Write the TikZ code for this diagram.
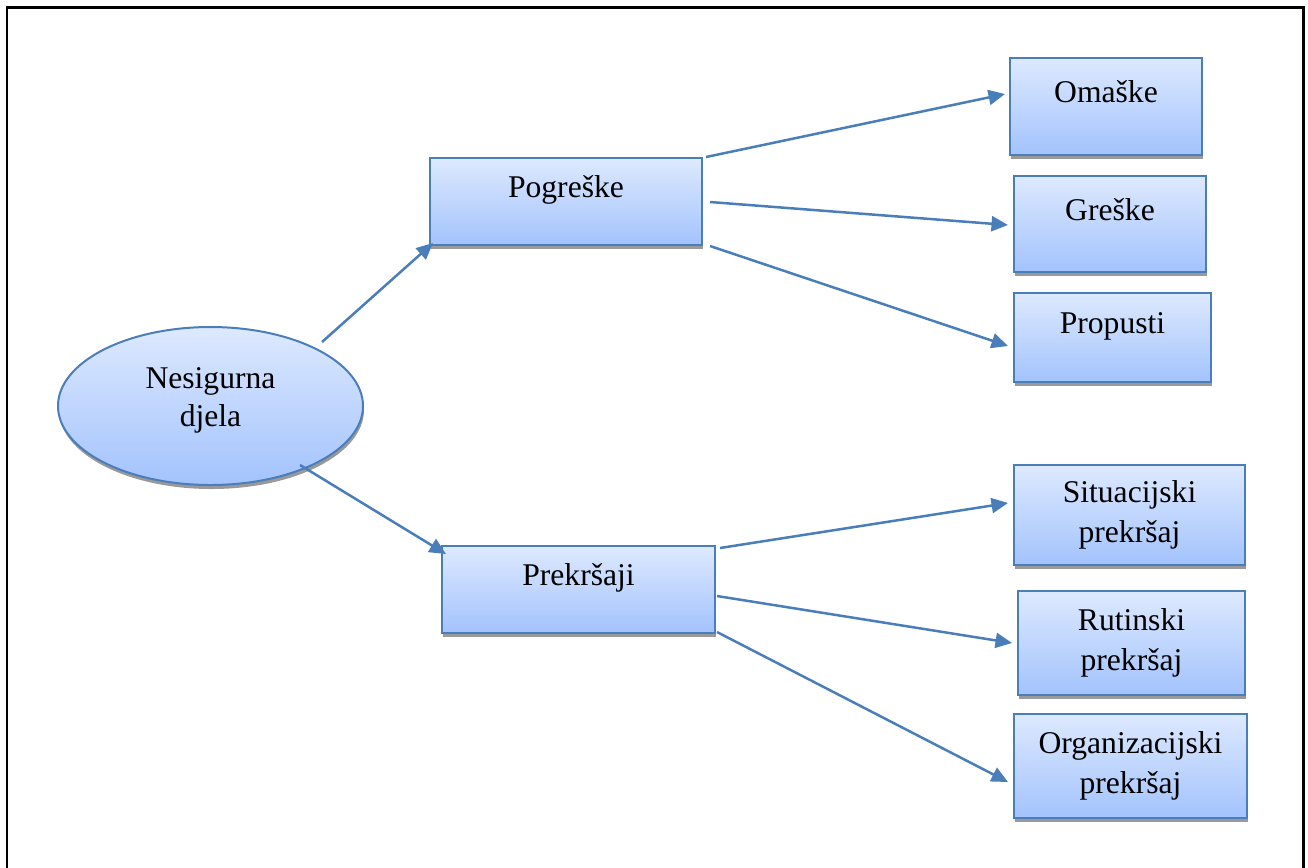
\documentclass[tikz,border=0pt]{standalone}
\usepackage{fontspec}
\setmainfont{Liberation Serif}
\usetikzlibrary{arrows.meta,shapes.geometric,shadows}
\definecolor{bordc}{HTML}{4A7EBB}
\definecolor{topc}{HTML}{DDE9FE}
\definecolor{botc}{HTML}{A3C3FD}
\tikzset{
  every node/.style={font=\fontsize{18}{22.8}\selectfont, text=black},
  shad/.style={general shadow={fill=black!40, shadow xshift=0.02cm, shadow yshift=-0.08cm}},
  boxa/.style={draw=bordc, line width=0.04cm, top color=topc, bottom color=botc, shad,
    rectangle, inner sep=0pt, align=center},
  topbox/.style={boxa, text height=0.46cm, text depth=0.62cm},
  ellbox/.style={boxa, ellipse},
  arr/.style={draw=bordc, line width=0.05cm, -{Triangle[length=0.33cm,width=0.3cm]}},
}
\begin{document}
\begin{tikzpicture}[x=0.02cm,y=-0.02cm]
\useasboundingbox (0,0) rectangle (1308,867);
% frame
\draw[black, line width=0.06cm] (7,880) -- (7,7.5) -- (1303,7.5) -- (1303,880);

\node[ellbox, minimum width=305*0.02cm, minimum height=158*0.02cm, text height=0.7cm, text depth=0.66cm] (el) at (210.5,406) {\begin{tabular}{@{}c@{}}Nesigurna\\[-0.04cm]djela\end{tabular}};

\node[topbox, minimum width=272*0.02cm, minimum height=87*0.02cm] (pg) at (566,201.5) {Pogreške};
\node[topbox, minimum width=273*0.02cm, minimum height=87*0.02cm] (pk) at (578.5,589.5) {Prekršaji};

\node[topbox, minimum width=192*0.02cm, minimum height=97*0.02cm] (om) at (1106,106.5) {Omaške};
\node[topbox, minimum width=192*0.02cm, minimum height=96*0.02cm] (gr) at (1110,224) {Greške};
\node[topbox, minimum width=197*0.02cm, minimum height=89*0.02cm] (pr) at (1112.5,337.5) {Propusti};

\node[boxa, minimum width=231*0.02cm, minimum height=100*0.02cm] (si) at (1129.5,515) {Situacijski\\prekršaj};
\node[boxa, minimum width=227*0.02cm, minimum height=104*0.02cm] (ru) at (1131.5,643) {Rutinski\\prekršaj};
\node[boxa, minimum width=233*0.02cm, minimum height=104*0.02cm] (or) at (1130.5,766) {Organizacijski\\prekršaj};

% connector end points
\coordinate (a1) at (322,342);  \coordinate (b1) at (433,243);
\coordinate (a2) at (300,465);  \coordinate (b2) at (446,554);
\coordinate (a3) at (706,157);  \coordinate (b3) at (1005,94);
\coordinate (a4) at (710,202);  \coordinate (b4) at (1008,225);
\coordinate (a5) at (710,246);  \coordinate (b5) at (1008,346);
\coordinate (a6) at (720,548);  \coordinate (b6) at (1008,503);
\coordinate (a7) at (717,596);  \coordinate (b7) at (1012,643);
\coordinate (a8) at (717,632);  \coordinate (b8) at (1008,782);

\draw[arr] (a1) -- (b1);
\draw[arr] (a2) -- (b2);
\draw[arr] (a3) -- (b3);
\draw[arr] (a4) -- (b4);
\draw[arr] (a5) -- (b5);
\draw[arr] (a6) -- (b6);
\draw[arr] (a7) -- (b7);
\draw[arr] (a8) -- (b8);
\end{tikzpicture}
\end{document}
